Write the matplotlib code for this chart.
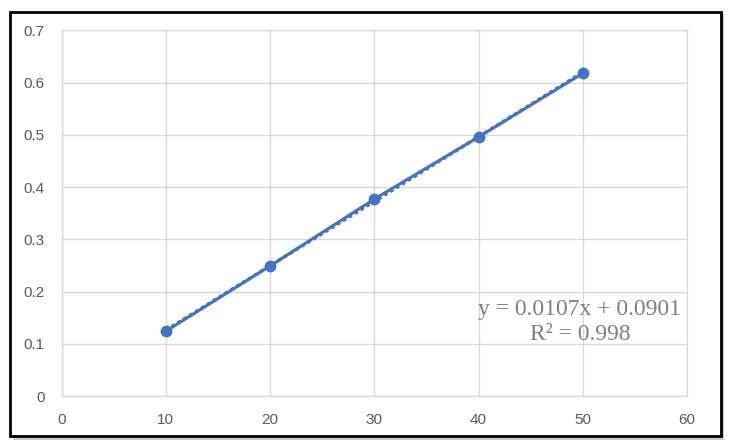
import matplotlib
matplotlib.use("Agg")
import matplotlib.pyplot as plt
from matplotlib.patches import Rectangle
import numpy as np

x_vals = [10, 20, 30, 40, 50]
y_vals = [0.124, 0.249, 0.377, 0.496, 0.618]
x_ticks = [0, 10, 20, 30, 40, 50, 60]
y_ticks = [0, 0.1, 0.2, 0.3, 0.4, 0.5, 0.6, 0.7]
y_tick_labels = ["0", "0.1", "0.2", "0.3", "0.4", "0.5", "0.6", "0.7"]
eq_text = "y = 0.0107x + 0.0901\nR² = 0.998"

blue = "#4472C4"
grid_c = "#D9D9D9"
tick_c = "#595959"

fig = plt.figure(figsize=(7.31, 4.48), dpi=100)
fig.patch.set_facecolor("white")

# outer frame with shadow
fig.patches.append(Rectangle((13 / 731, 1 - 440 / 448), 711 / 731, 426 / 448,
                             transform=fig.transFigure, facecolor="#C8C8C8",
                             edgecolor="none", zorder=0))
fig.patches.append(Rectangle((10 / 731, 1 - 436 / 448), 711 / 731, 424 / 448,
                             transform=fig.transFigure, facecolor="white",
                             edgecolor="black", linewidth=2, zorder=1))

ax = fig.add_axes([61.5 / 731, 1 - 396 / 448, (687 - 61.5) / 731, (396 - 30.5) / 448])
ax.set_zorder(2)
ax.patch.set_alpha(0)

ax.set_xlim(0, 60)
ax.set_ylim(0, 0.7)
ax.set_xticks(x_ticks)
ax.set_yticks(y_ticks)
ax.set_yticklabels(y_tick_labels)
ax.grid(True, color=grid_c, linewidth=1)
ax.set_axisbelow(True)
for s in ax.spines.values():
    s.set_color(grid_c)
    s.set_linewidth(1)
ax.tick_params(length=0, labelcolor=tick_c, labelsize=11)
ax.tick_params(axis="y", pad=12)
ax.tick_params(axis="x", pad=12)
for lab in ax.get_xticklabels() + ax.get_yticklabels():
    lab.set_fontfamily("Liberation Sans")

# trendline (dotted)
coef = np.polyfit(x_vals, y_vals, 1)
xs = np.array([x_vals[0], x_vals[-1]])
ax.plot(xs, np.polyval(coef, xs), color=blue, linestyle=(0, (1, 1)), linewidth=2.5, zorder=3)

ax.plot(x_vals, y_vals, color=blue, linewidth=2.2, marker="o", markersize=7.5, zorder=4)

fig.text(580 / 731, 1 - 322 / 448, eq_text, ha="center", va="center",
         fontfamily="Liberation Serif", fontsize=17, color="#808080", linespacing=1.3,
         zorder=5)

fig.savefig("out.png", dpi=100)
